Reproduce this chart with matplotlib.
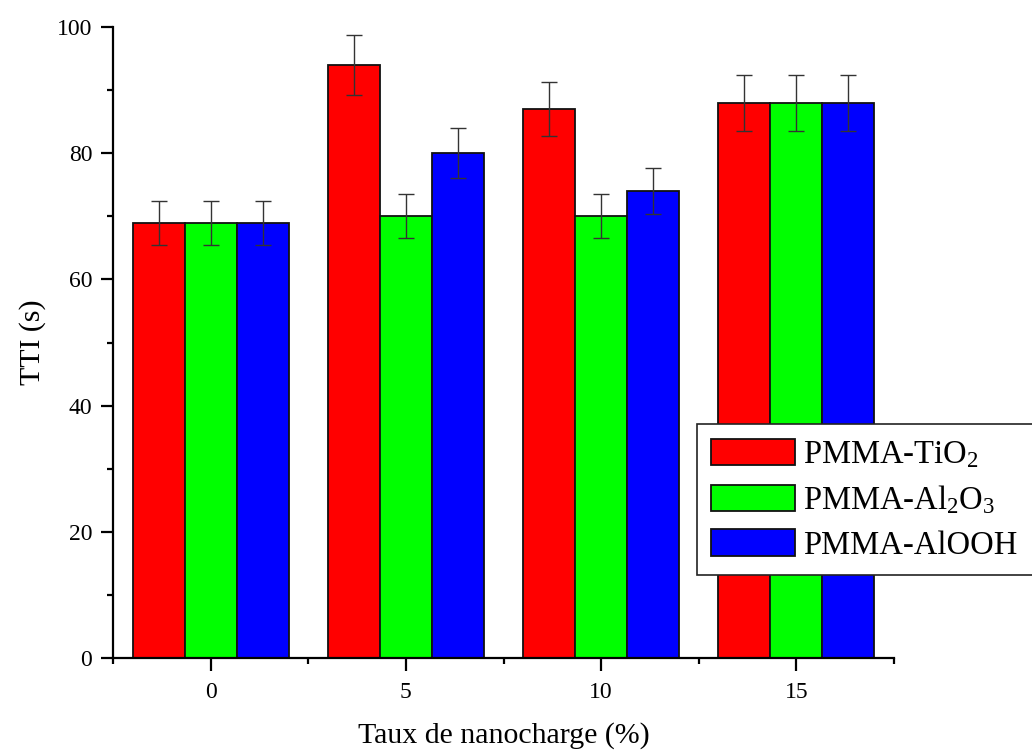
import numpy as np
import matplotlib
matplotlib.use('Agg')
import matplotlib.pyplot as plt
from matplotlib.ticker import MultipleLocator

plt.rcParams['font.family'] = ['Liberation Serif', 'DejaVu Serif']
plt.rcParams['mathtext.default'] = 'regular'

########## Data

taux = [0, 5, 10, 15]
labels = ['PMMA-TiO$_2$', 'PMMA-Al$_2$O$_3$', 'PMMA-AlOOH']
colors = ['#ff0000', '#00ff00', '#0000ff']

tti_tio2 = [69, 94, 87, 88]
tti_al2o3 = [69, 70, 70, 88]
tti_alooh = [69, 80, 74, 88]

err_tio2 = [3.5, 4.8, 4.3, 4.4]
err_al2o3 = [3.5, 3.5, 3.5, 4.4]
err_alooh = [3.5, 4.0, 3.7, 4.4]

########## Plot

fig = plt.figure(figsize=(10.32, 7.51), dpi=100)
ax = fig.add_axes([0.1095, 0.1238, 0.7568, 0.8402])

w = 4 / 3.
x = np.array(taux, dtype=float)
series = [(tti_tio2, err_tio2), (tti_al2o3, err_al2o3), (tti_alooh, err_alooh)]
for k, (vals, errs) in enumerate(series):
    pos = x + (k - 1) * w
    ax.bar(pos, vals, width=w, color=colors[k], edgecolor='#111111',
           linewidth=1.3, label=labels[k], zorder=2)
    ax.errorbar(pos, vals, yerr=errs, fmt='none', ecolor='#333333',
                elinewidth=1.0, capsize=6, capthick=1.0, zorder=3)

ax.set_xlim(-2.5, 17.5)
ax.set_ylim(0, 100)
ax.set_xticks(taux)
ax.set_xticks([-2.5, 2.5, 7.5, 12.5, 17.5], minor=True)
ax.yaxis.set_major_locator(MultipleLocator(20))
ax.yaxis.set_minor_locator(MultipleLocator(10))

for s in ['top', 'right']:
    ax.spines[s].set_visible(False)
for s in ['left', 'bottom']:
    ax.spines[s].set_linewidth(1.6)

ax.tick_params(which='major', direction='out', length=9, width=1.6,
               labelsize=17, pad=6)
ax.tick_params(which='minor', direction='out', length=4.5, width=1.6)
ax.tick_params(axis='x', which='major', pad=8)

ax.set_xlabel('Taux de nanocharge (%)', size=21.5, labelpad=14)
ax.set_ylabel('TTI (s)', size=21.5, labelpad=8)

leg = ax.legend(loc='upper left', bbox_to_anchor=(0.675, 0.233, 0.34, 0.202),
                bbox_transform=fig.transFigure, mode='expand',
                fontsize=23.5, frameon=True, fancybox=False, edgecolor='#222222',
                framealpha=1, handlelength=2.55, handleheight=0.86,
                labelspacing=0.4, handletextpad=0.25, borderpad=0.45,
                borderaxespad=0)
leg.get_frame().set_linewidth(1.2)
leg.set_zorder(5)

plt.savefig('out.png', dpi=100)
